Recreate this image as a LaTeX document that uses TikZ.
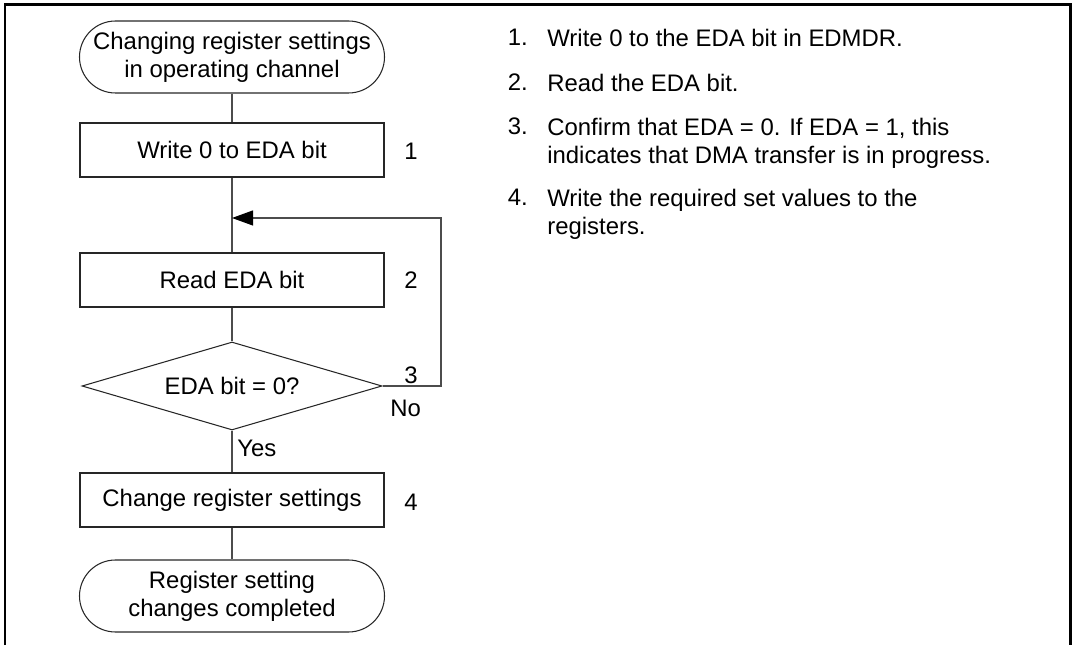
\documentclass[tikz,border=0pt]{standalone}
\usepackage{fontspec}
\setmainfont{Liberation Sans}
\usetikzlibrary{shapes.geometric,arrows.meta}

\tikzset{
  term/.style={draw=black!85, line width=0.6pt, rounded corners=0.72cm, minimum width=6.1cm, minimum height=1.44cm, align=center},
  proc/.style={draw=black!85, line width=0.6pt, minimum width=6.08cm, minimum height=1.08cm},
  decide/.style={draw=black!85, line width=0.6pt, diamond, aspect=3.4, minimum width=6cm, minimum height=1.76cm, inner sep=0pt},
  conn/.style={draw=black!70, line width=0.6pt},
  num/.style={inner sep=0pt},
  note/.style={anchor=north west, align=left, inner sep=0pt}
}

\begin{document}
\begin{tikzpicture}[font=\fontsize{13.6}{15.9}\selectfont]
\useasboundingbox (0,0) rectangle (21.5,12.9);
% outer frame, open at the bottom
\draw[line width=1.7pt] (0.1,0) -- (0.1,12.8) -- (21.4,12.8) -- (21.4,0);

% flow
\node[term] (start) at (4.64,11.76) {Changing register settings\\in operating channel};
\node[proc] (wr) at (4.64,9.9) {Write 0 to EDA bit};
\coordinate (join) at (4.64,8.54);
\node[proc] (rd) at (4.64,7.3) {Read EDA bit};
\node[decide] (chk) at (4.64,5.18) {EDA bit = 0?};
\node[proc] (chg) at (4.64,2.9) {Change register settings};
\node[term] (done) at (4.64,0.98) {Register setting\\changes completed};
\coordinate (loop) at (8.82,8.54);

\draw[conn] (start) -- (wr);
\draw[conn] (wr) -- (rd);
\draw[conn] (rd) -- (chk);
\draw[conn] (chk) -- (chg);
\draw[conn] (chg) -- (done);
\draw[conn, -{Triangle[length=0.42cm, width=0.3cm, color=black]}] (chk.east) -| (loop) -- (join);

% step numbers and branch labels
\node[num] (n1) at (8.22,9.88) {1};
\node[num] (n2) at (8.22,7.3) {2};
\node[num] (n3) at (8.22,5.4) {3};
\node[num] (n4) at (8.22,2.86) {4};
\node[num, anchor=north west] (no) at (7.8,4.9) {No};
\node[right, inner sep=0.1cm] (yes) at (4.64,3.94) {Yes};

% notes
\node[note] (t1) at (10.15,12.33) {1.};
\node[note] (t2) at (10.15,11.43) {2.};
\node[note] (t3) at (10.15,10.55) {3.};
\node[note] (t4) at (10.15,9.13) {4.};
\node[note] (d1) at (10.94,12.33) {Write 0 to the EDA bit in EDMDR.};
\node[note] (d2) at (10.94,11.43) {Read the EDA bit.};
\node[note] (d3) at (10.94,10.55) {Confirm that EDA = 0. If EDA = 1, this\\indicates that DMA transfer is in progress.};
\node[note] (d4) at (10.94,9.13) {Write the required set values to the\\registers.};
\end{tikzpicture}
\end{document}
